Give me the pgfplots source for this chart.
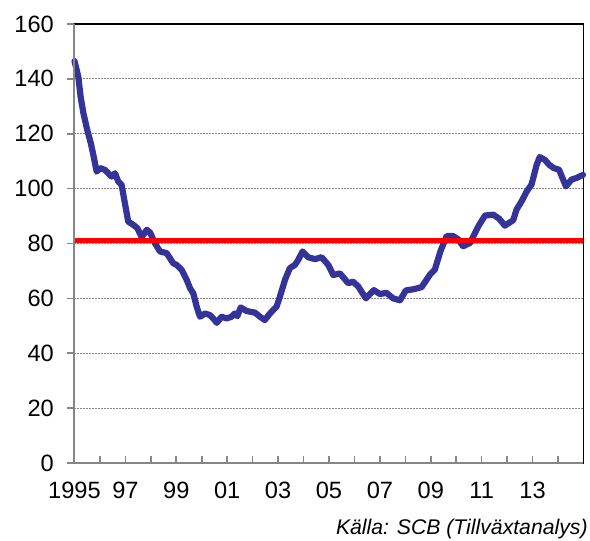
\documentclass[border=0pt]{standalone}
\usepackage{fontspec}
\setmainfont{Liberation Sans}
\usepackage{pgfplots}
\pgfplotsset{compat=1.18}
\definecolor{lineblue}{RGB}{51,51,153}
\definecolor{axisgray}{RGB}{134,134,134}

\begin{document}
\begin{tikzpicture}
\begin{axis}[
  name=ax,
  scale only axis,
  width=254.5pt,
  height=219.5pt,
  xmin=1995, xmax=2015,
  ymin=0, ymax=160,
  ytick={0,20,...,160},
  xtick={1995,1997,...,2013},
  xticklabels={1995,97,99,01,03,05,07,09,11,13},
  minor xtick={1996,1998,...,2014},
  xtick pos=bottom,
  ytick pos=left,
  tick align=inside,
  major tick length=3.5pt,
  minor tick length=3.5pt,
  every major y tick/.append style={xshift=-3.5pt},
  tick style={axisgray, line width=0.8pt},
  /pgf/number format/assume math mode=true,
  tick label style={font=\fontsize{11.8}{13}\selectfont},
  yticklabel style={xshift=-6.8pt},
  xticklabel style={yshift=-6.1pt},
  ymajorgrids=true,
  grid style={axisgray, line width=0.6pt, dash pattern=on 0.6pt off 0.9pt},
  axis line style={black, line width=0.75pt},
  clip=false,
]
\addplot[lineblue, line width=3.1pt, line cap=round, line join=round] coordinates {
(1995.00,146.5) (1995.15,140.8) (1995.24,133.5) (1995.35,127.5) (1995.50,121.4)
(1995.64,116.6) (1995.74,112.3) (1995.87,106.2) (1996.00,107.5) (1996.20,106.8)
(1996.33,105.6) (1996.46,104.4) (1996.59,105.6) (1996.72,102.6) (1996.85,101.4)
(1996.98,94.7) (1997.11,88.0) (1997.31,86.8) (1997.47,85.6) (1997.64,82.3)
(1997.84,85.0) (1997.97,84.0) (1998.16,80.1) (1998.36,77.1) (1998.62,76.5)
(1998.88,72.8) (1999.01,72.2) (1999.21,70.4) (1999.41,66.7) (1999.54,63.7)
(1999.67,61.8) (1999.80,57.0) (1999.93,53.3) (2000.13,54.5) (2000.32,53.9)
(2000.45,52.7) (2000.59,51.1) (2000.78,53.3) (2000.98,52.7) (2001.17,53.3)
(2001.30,54.5) (2001.40,53.5) (2001.53,56.7) (2001.76,55.4) (2002.09,54.8)
(2002.29,53.3) (2002.48,52.1) (2002.68,54.5) (2002.94,57.0) (2003.07,60.6)
(2003.27,66.7) (2003.46,71.0) (2003.66,72.2) (2003.79,74.0) (2003.96,77.1)
(2004.18,75.0) (2004.45,74.3) (2004.71,75.0) (2004.97,72.2) (2005.17,68.5)
(2005.43,69.1) (2005.76,65.5) (2005.95,66.1) (2006.15,64.3) (2006.45,60.0)
(2006.76,63.0) (2007.00,61.6) (2007.26,62.0) (2007.52,60.0) (2007.79,59.3)
(2008.02,62.9) (2008.31,63.3) (2008.64,64.1) (2008.97,68.7) (2009.16,70.5)
(2009.38,77.2) (2009.62,82.7) (2009.88,82.7) (2010.08,81.5) (2010.27,79.0)
(2010.54,80.2) (2010.87,86.3) (2011.13,90.2) (2011.46,90.5) (2011.69,89.0)
(2011.91,86.5) (2012.24,88.5) (2012.37,92.4) (2012.57,95.4) (2012.77,99.0)
(2012.96,101.5) (2013.16,108.7) (2013.28,111.5) (2013.48,110.5) (2013.65,108.7)
(2013.83,107.5) (2014.04,106.9) (2014.31,100.8) (2014.53,103.3) (2014.73,103.9)
(2014.98,105.0)
};
\addplot[red, line width=2.5pt] coordinates {(1995,81) (2015,81)};
\draw[axisgray, line width=1pt] (rel axis cs:0,1) -- (rel axis cs:0,0) -- (rel axis cs:1,0);
\end{axis}
\node[anchor=base east, inner sep=0pt, font=\fontsize{10.6}{12}\selectfont\itshape]
  at ([xshift=2.25pt, yshift=-36pt]ax.south east) {Källa: SCB (Tillväxtanalys)};
\pgfresetboundingbox
\path[use as bounding box] (ax.south west) ++(-37.25pt,-39pt) rectangle ++(295pt,270.5pt);
\end{tikzpicture}
\end{document}
